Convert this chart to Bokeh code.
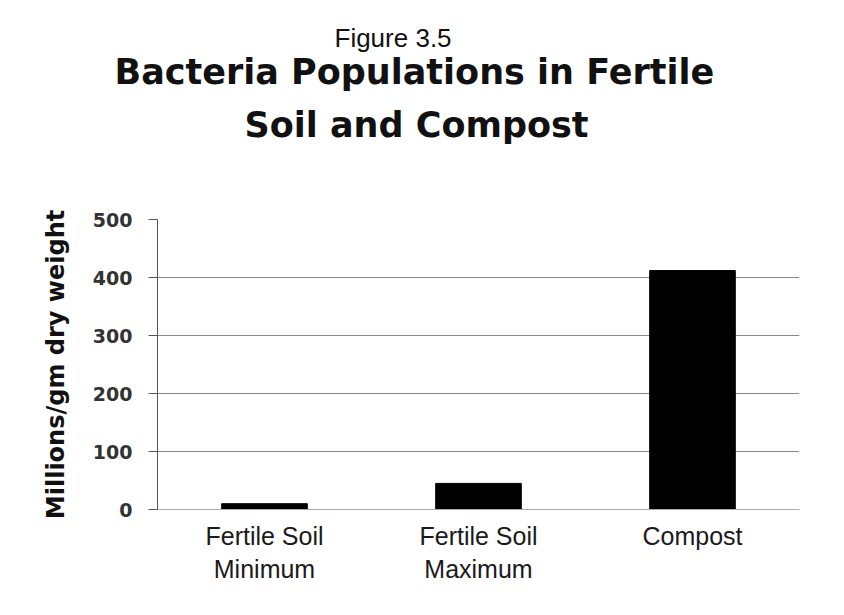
from bokeh.plotting import figure
from bokeh.models import Title, Range1d, FactorRange, ColumnDataSource, FixedTicker
from bokeh.embed import file_html
from bokeh.resources import INLINE

categories = ["Fertile Soil\nMinimum", "Fertile Soil\nMaximum", "Compost"]
values = [10, 45, 412]
y_ticks = [0, 100, 200, 300, 400, 500]

source = ColumnDataSource(data=dict(cat=categories, val=values))

p = figure(width=828, height=599, x_range=FactorRange(*categories),
           y_range=Range1d(0, 500), output_backend="svg", toolbar_location=None,
           title=None)
p.min_border_left = 157
p.min_border_right = 29
p.min_border_bottom = 90
p.min_border_top = 219

p.vbar(x="cat", top="val", width=0.4, source=source, fill_color="black", line_color="black")

def spacer(h):
    return Title(text=" ", text_font_size="1px", standoff=h)

# titles (added bottom-up, nearest the plot first)
p.add_layout(spacer(72), "above")
p.add_layout(Title(text="Soil and Compost", align="left", offset=87, standoff=0,
                   text_font="DejaVu Sans", text_font_size="35px", text_font_style="bold",
                   text_color="#111111"), "above")
p.add_layout(spacer(8), "above")
p.add_layout(Title(text="Bacteria Populations in Fertile", align="left", offset=-43, standoff=0,
                   text_font="DejaVu Sans", text_font_size="35px", text_font_style="bold",
                   text_color="#111111"), "above")
p.add_layout(Title(text="Figure 3.5", align="left", offset=177, standoff=-6,
                   text_font="Liberation Sans", text_font_size="26px", text_font_style="normal",
                   text_color="#111111"), "above")

p.background_fill_color = "white"
p.border_fill_color = "white"
p.outline_line_color = None

p.xgrid.grid_line_color = None
p.ygrid.grid_line_color = "#888888"
p.ygrid.grid_line_width = 1.2
p.ygrid.ticker = FixedTicker(ticks=y_ticks)

p.yaxis.ticker = FixedTicker(ticks=y_ticks)
p.yaxis.axis_label = "Millions/gm dry weight"
p.yaxis.axis_label_text_font = "DejaVu Sans"
p.yaxis.axis_label_text_font_size = "24px"
p.yaxis.axis_label_text_font_style = "bold"
p.yaxis.axis_label_text_color = "#111111"
p.yaxis.axis_label_standoff = 20
p.yaxis.major_label_text_font = "DejaVu Sans"
p.yaxis.major_label_text_font_size = "19px"
p.yaxis.major_label_text_font_style = "bold"
p.yaxis.major_label_text_color = "#333333"
p.yaxis.major_label_standoff = 16
p.yaxis.major_tick_out = 9
p.yaxis.major_tick_in = 0
p.yaxis.minor_tick_line_color = None
p.yaxis.axis_line_color = "#555555"
p.yaxis.major_tick_line_color = "#555555"

p.xaxis.major_label_text_font = "Liberation Sans"
p.xaxis.major_label_text_font_size = "25px"
p.xaxis.major_label_text_color = "#1a1a1a"
p.xaxis.major_label_standoff = 6
p.xaxis.major_tick_line_color = None
p.xaxis.axis_line_color = "#aaaaaa"

open("out.html", "w").write(file_html(p, INLINE))
